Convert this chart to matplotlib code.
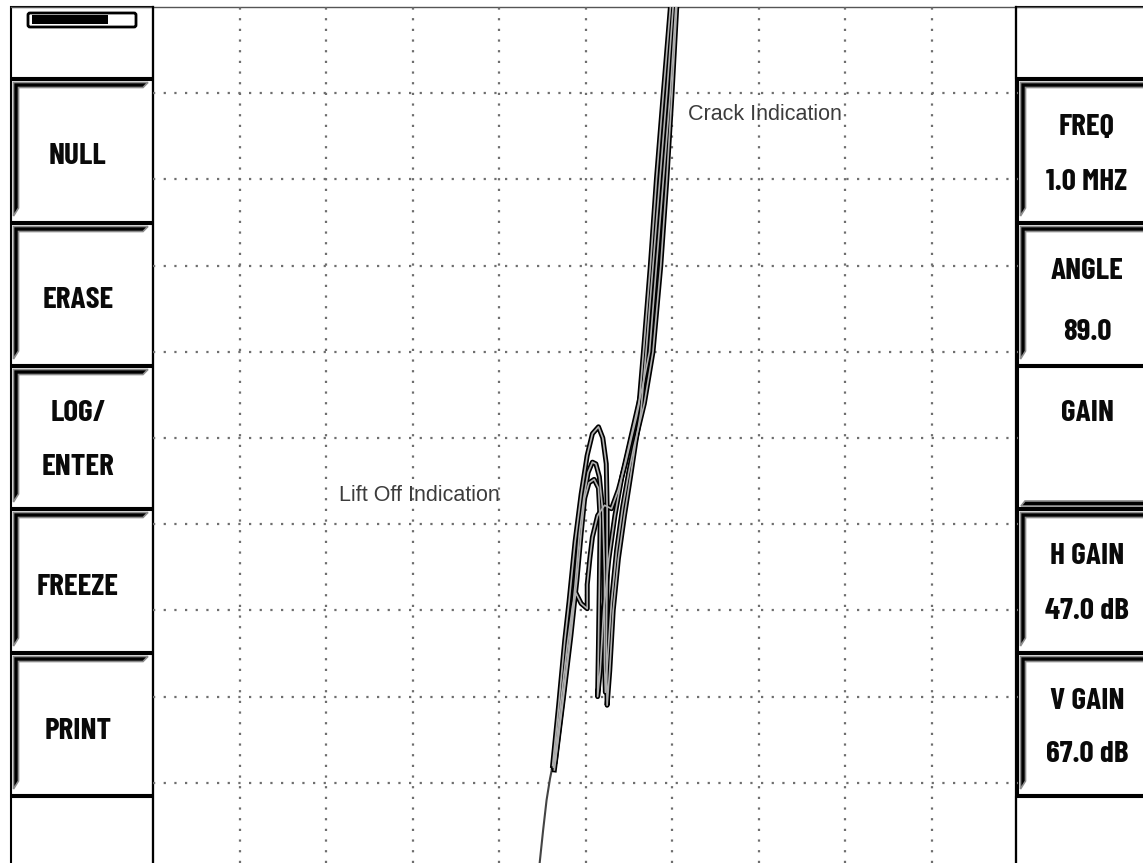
import matplotlib
matplotlib.use("Agg")
import matplotlib.pyplot as plt
from matplotlib.patches import Rectangle, Polygon, FancyBboxPatch

# screen layout (pixels, y measured downward)
W, H = 1143, 863
PLOT_LEFT, PLOT_RIGHT, PLOT_TOP = 153, 1018, 7

left_labels = [["NULL"], ["ERASE"], ["LOG/", "ENTER"], ["FREEZE"], ["PRINT"]]
right_labels = [["FREQ", "1.0 MHZ"], ["ANGLE", "89.0"], ["GAIN"],
                ["H GAIN", "47.0 dB"], ["V GAIN", "67.0 dB"]]
button_tops = [80, 224, 367, 510, 654]
button_bottoms = [222, 365, 508, 652, 795]
left_text_y = [[152], [296], [409, 463], [583], [727]]
right_text_y = [[123, 179], [267, 328], [409], [552, 607], [697, 750]]

# impedance plane traces, in screen divisions from the centre
tail_x = [-0.53, -0.49, -0.45, -0.41, -0.38]
tail_y = [-4.93, -4.55, -4.20, -3.95, -3.80]

trace_a_x = [-0.38, -0.31, -0.24, -0.19, -0.12, -0.05, 0.02, 0.08, 0.15, 0.20, 0.24, 0.25, 0.25, 0.24, 0.25,
             0.28, 0.32, 0.38, 0.45, 0.52, 0.58, 0.64, 0.70, 0.78, 0.86, 0.94, 1.02]
trace_a_y = [-3.80, -3.10, -2.35, -1.90, -1.20, -0.65, -0.20, 0.05, 0.13, 0.00, -0.30, -0.80, -1.60, -2.40, -3.10,
             -2.70, -2.00, -1.40, -0.90, -0.45, -0.05, 0.30, 1.00, 2.00, 3.00, 4.00, 5.10]

trace_b_x = [-0.36, -0.26, -0.17, -0.10, -0.05, -0.01, 0.04, 0.10, 0.15, 0.17, 0.16, 0.15, 0.14,
             0.17, 0.21, 0.27, 0.34, 0.42, 0.50, 0.58, 0.66, 0.74, 0.82, 0.90, 0.98, 1.05]
trace_b_y = [-3.85, -3.05, -2.30, -1.65, -1.10, -0.70, -0.52, -0.48, -0.58, -0.95, -1.70, -2.40, -3.00,
             -2.70, -2.00, -1.40, -0.90, -0.45, -0.10, 0.25, 0.60, 1.00, 2.00, 3.00, 4.00, 5.10]

trace_c_x = [-0.37, -0.29, -0.21, -0.15, -0.11, -0.05, 0.02, 0.02, 0.05, 0.08, 0.14, 0.22, 0.30, 0.38, 0.46,
             0.53, 0.59, 0.62, 0.67, 0.75, 0.82, 0.90, 0.99]
trace_c_y = [-3.82, -3.10, -2.40, -1.95, -1.80, -1.92, -1.98, -1.70, -1.40, -1.15, -0.90, -0.78, -0.82, -0.60, -0.30,
             0.00, 0.25, 0.40, 1.00, 2.00, 3.00, 4.00, 5.10]

trace_d_x = [-0.35, -0.26, -0.18, -0.12, -0.07, -0.02, 0.03, 0.08, 0.12, 0.16, 0.20, 0.22, 0.22, 0.23, 0.26,
             0.30, 0.36, 0.43, 0.50, 0.56, 0.62, 0.68, 0.78, 0.87, 0.94, 1.00, 1.06]
trace_d_y = [-3.75, -3.00, -2.30, -1.70, -1.10, -0.70, -0.40, -0.28, -0.30, -0.45, -0.85, -1.60, -2.60, -2.95, -2.50,
             -1.90, -1.30, -0.80, -0.40, -0.10, 0.15, 0.40, 1.00, 2.00, 3.00, 4.00, 5.10]

traces = [(trace_a_x, trace_a_y), (trace_b_x, trace_b_y), (trace_c_x, trace_c_y), (trace_d_x, trace_d_y)]

BTN_FONT = ["Barlow Condensed", "Roboto Condensed", "Asap Condensed", "DejaVu Sans"]
LBL_FONT = ["Liberation Sans", "DejaVu Sans"]


def draw_button(ax, x0, x1, top, bottom, bevel="topleft"):
    ax.add_patch(Rectangle((x0, top), x1 - x0, bottom - top, facecolor="white",
                           edgecolor="black", lw=1.5, zorder=1))
    if bevel == "topleft":
        pts = [(x0 + 2.5, top + 2.5), (x1 - 5, top + 2.5), (x1 - 10, top + 7.5), (x0 + 7.5, top + 7.5),
               (x0 + 7.5, bottom - 14), (x0 + 2.5, bottom - 6)]
    else:
        pts = [(x0 + 7, bottom - 7.5), (x1, bottom - 7.5), (x1, bottom - 2.5), (x0 + 2.5, bottom - 2.5)]
    ax.add_patch(Polygon(pts, closed=True, facecolor="black", edgecolor="#8c8c8c", lw=1.2, zorder=2))


def button_text(ax, x, y, s):
    ax.text(x, y + 11.5, s, ha="center", va="baseline", fontsize=22.5, fontweight="bold",
            family=BTN_FONT, color="#0a0a0a", zorder=4)


fig = plt.figure(figsize=(W / 100, H / 100), dpi=100)
bg = fig.add_axes([0, 0, 1, 1])
bg.set_xlim(0, W)
bg.set_ylim(H, 0)
bg.axis("off")

# top border
bg.plot([11, W], [PLOT_TOP, PLOT_TOP], color="#555555", lw=1.0, zorder=3)

# left panel
bg.add_patch(Rectangle((11, PLOT_TOP), PLOT_LEFT - 11, 71, facecolor="white", edgecolor="black", lw=1.5))
bg.add_patch(FancyBboxPatch((28, 13), 108, 14, boxstyle="round,pad=0,rounding_size=2",
                            facecolor="white", edgecolor="black", lw=2.0, zorder=2))
bg.add_patch(Rectangle((32, 15.5), 76, 9, facecolor="black", edgecolor="none", zorder=3))
for lines, ys, t, b in zip(left_labels, left_text_y, button_tops, button_bottoms):
    draw_button(bg, 11, PLOT_LEFT, t, b)
    for s, y in zip(lines, ys):
        button_text(bg, 78, y, s)
bg.add_patch(Rectangle((11, 797), PLOT_LEFT - 11, 80, facecolor="white", edgecolor="black", lw=1.5))

# right panel
bg.add_patch(Rectangle((1016, PLOT_TOP), 150, 71, facecolor="white", edgecolor="black", lw=1.5))
for lines, ys, t, b in zip(right_labels, right_text_y, button_tops, button_bottoms):
    draw_button(bg, 1018, 1160, t, b, bevel="bottom" if lines == ["GAIN"] else "topleft")
    for s, y in zip(lines, ys):
        button_text(bg, 1087, y, s)
bg.add_patch(Rectangle((1016, 797), 150, 80, facecolor="white", edgecolor="black", lw=1.5))
bg.plot([1016, 1016], [PLOT_TOP, H], color="black", lw=1.6, zorder=3)
bg.plot([PLOT_LEFT, PLOT_LEFT], [PLOT_TOP, H], color="black", lw=1.6, zorder=3)

# impedance plane display
ax = fig.add_axes([PLOT_LEFT / W, 0, (PLOT_RIGHT - PLOT_LEFT) / W, (H - PLOT_TOP) / H])
ax.set_facecolor("none")
ax.set_xlim(-5, 5)
ax.set_ylim(-4.93, 5.0)
ax.set_xticks(range(-4, 5))
ax.set_yticks(range(-4, 5))
ax.tick_params(length=0, labelbottom=False, labelleft=False)
ax.grid(True, color="#6e6e6e", linestyle=(0, (1, 3.8)), linewidth=1.6)
for sp in ax.spines.values():
    sp.set_visible(False)

ax.plot(tail_x, tail_y, color="#444444", lw=1.5)
for tx, ty in traces:
    ax.plot(tx, ty, color="black", lw=3.6, solid_joinstyle="round")
for tx, ty in traces:
    ax.plot(tx, ty, color="#b0b0b0", lw=1.2, solid_joinstyle="round")

ax.text(1.18, 3.75, "Crack Indication", fontsize=15.5, family=LBL_FONT, color="#3c3c3c", va="center")
ax.text(-2.85, -0.67, "Lift Off Indication", fontsize=15.5, family=LBL_FONT, color="#3c3c3c", va="center")

fig.savefig("out.png", dpi=100)
